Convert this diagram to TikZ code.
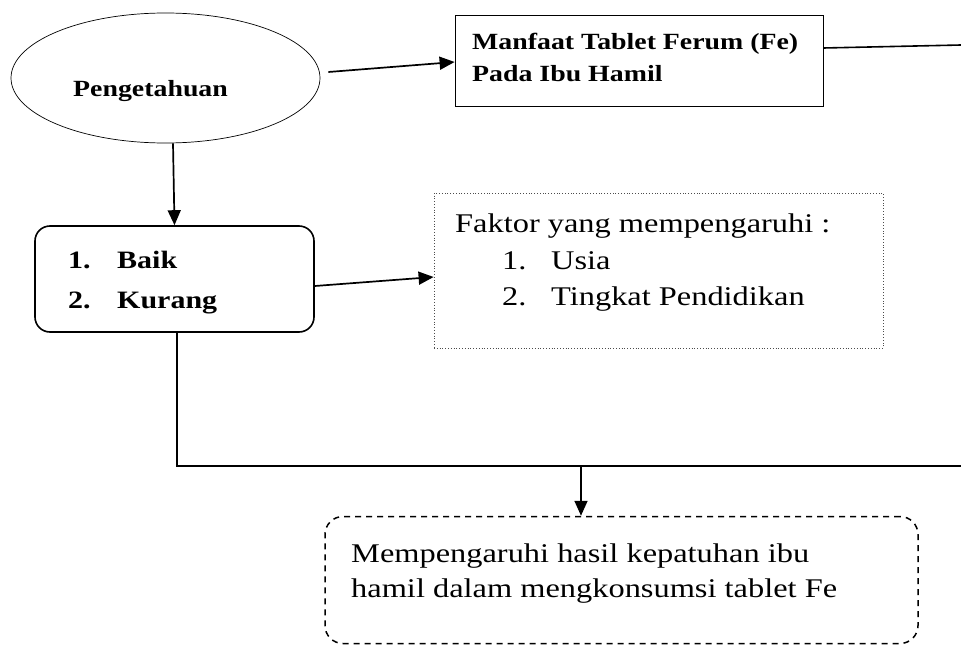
\documentclass[tikz,border=0pt]{standalone}
\usepackage{fontspec}
\setmainfont{Liberation Serif}[FakeStretch=1.2]
\usetikzlibrary{arrows.meta,shapes.geometric}
\begin{document}
\begin{tikzpicture}[x=1pt,y=-1pt,
  arr/.style={line width=1.7pt,-{Triangle[length=15pt,width=13pt]}},
  bt/.style={anchor=base west,inner sep=0pt,font=\bfseries\fontsize{23.2}{27}\selectfont},
  btl/.style={anchor=base west,inner sep=0pt,font=\bfseries\fontsize{25}{29}\selectfont},
  rt/.style={anchor=base west,inner sep=0pt,font=\fontsize{27}{31}\selectfont},
  plainbox/.style={draw,line width=0.8pt,inner sep=0pt},
  roundbox/.style={draw,rounded corners=15pt,line width=1.6pt,inner sep=0pt},
  dotbox/.style={draw=black!70,dotted,line width=0.8pt,inner sep=0pt},
  dashbox/.style={draw,dash pattern=on 6pt off 5pt,rounded corners=18pt,line width=1.5pt,inner sep=0pt}]
\useasboundingbox (0,0) rectangle (961,645);

% shapes
\node[ellipse,draw,line width=0.7pt,minimum width=309pt,minimum height=130pt,inner sep=0pt] (e) at (165.5,78) {};
\node[plainbox,minimum width=368pt,minimum height=91pt] (m) at (639,60.5) {};
\node[roundbox,minimum width=279pt,minimum height=106pt] (r) at (174.5,279) {};
\node[dotbox,minimum width=449pt,minimum height=155pt] (f) at (658.5,270.5) {};
\node[dashbox,minimum width=593pt,minimum height=127pt] (d) at (621.5,580) {};

% texts
\node[bt] (tp) at (73,96) {Pengetahuan};
\node[bt] (tm1) at (472,49) {Manfaat Tablet Ferum (Fe)};
\node[bt] (tm2) at (472,81) {Pada Ibu Hamil};
\node[btl] (n1) at (68,268) {1.};
\node[btl] (b1) at (117,268) {Baik};
\node[btl] (n2) at (68,308) {2.};
\node[btl] (b2) at (117,308) {Kurang};
\node[rt] (tf) at (455,232) {Faktor yang mempengaruhi :};
\node[rt] (u1) at (502,269) {1.};
\node[rt] (u1t) at (551,269) {Usia};
\node[rt] (u2) at (502,305) {2.};
\node[rt] (u2t) at (551,305) {Tingkat Pendidikan};
\node[rt] (d1) at (351,562) {Mempengaruhi hasil kepatuhan ibu};
\node[rt] (d2) at (351,597) {hamil dalam mengkonsumsi tablet Fe};

% connectors
\coordinate (mr) at (961,45);
\coordinate (br) at (961,466);
\coordinate (j) at (581,466);
\draw[arr] ([xshift=8pt,yshift=6pt]e.east) -- ([yshift=-1.5pt]m.west);
\draw[line width=1.6pt] ([yshift=12.5pt]m.east) -- (mr);
\draw[arr] ([xshift=7.5pt]e.south) -- (r.north);
\draw[arr] ([yshift=-7pt]r.east) -- ([yshift=-6.5pt]f.west);
\draw[line width=1.5pt] ([xshift=2.5pt]r.south) |- (br);
\draw[arr] (j) -- (j |- d.north);
\end{tikzpicture}
\end{document}
